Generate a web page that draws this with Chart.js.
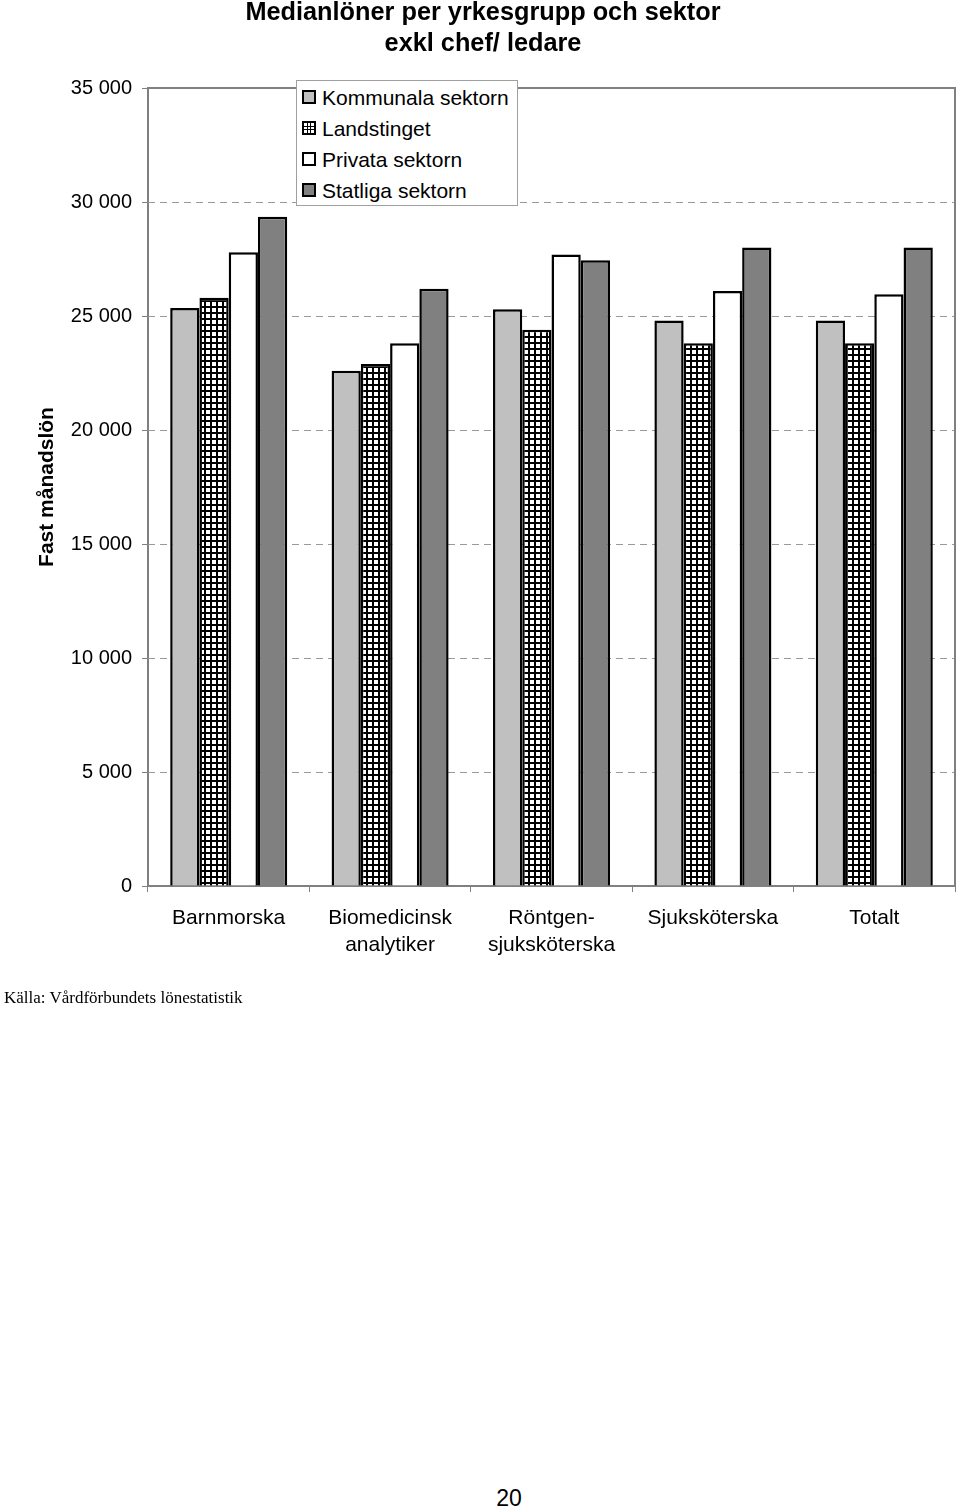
<!DOCTYPE html>
<html><head><meta charset="utf-8">
<script src="https://cdn.jsdelivr.net/npm/chart.js@4.4.1/dist/chart.umd.min.js"></script>
<style>
html,body{margin:0;padding:0;background:#fff;width:960px;height:1511px;overflow:hidden;position:relative;font-family:"Liberation Sans",Arial,sans-serif;}
#c{position:absolute;left:0;top:0;}
#title{position:absolute;left:0;width:966px;top:-4px;text-align:center;font-weight:bold;font-size:25.3px;line-height:31px;color:#000;}
#legend{position:absolute;left:296px;top:80px;width:220px;height:124px;border:1px solid #a0a0a0;background:#fff;z-index:2;}
.item{position:absolute;left:5px;height:31px;font-size:21px;line-height:31px;color:#000;white-space:nowrap;}
.sw{position:absolute;left:0;top:8px;width:10px;height:10px;border:2px solid #000;}
.item span.t{position:absolute;left:20px;top:0;}
#src{position:absolute;left:4px;top:988px;font-family:"Liberation Serif","Times New Roman",serif;font-size:17px;color:#000;white-space:nowrap;}
#page{position:absolute;left:0;width:1018px;text-align:center;top:1485px;font-size:23px;color:#000;}
</style></head>
<body>
<canvas id="c" width="960" height="1000"></canvas>
<div id="title">Medianlöner per yrkesgrupp och sektor<br>exkl chef/ ledare</div>
<div id="legend"></div>
<div id="src">Källa: Vårdförbundets lönestatistik</div>
<div id="page">20</div>
<script>
const categories = [["Barnmorska"], ["Biomedicinsk","analytiker"], ["Röntgen-","sjuksköterska"], ["Sjuksköterska"], ["Totalt"]];
const seriesNames = ["Kommunala sektorn", "Landstinget", "Privata sektorn", "Statliga sektorn"];
const kommunala = [25350, 22600, 25300, 24800, 24800];
const landstinget = [25800, 22900, 24400, 23800, 23800];
const privata = [27800, 23800, 27700, 26100, 25950];
const statliga = [29350, 26200, 27450, 28000, 28000];
const yTicks = [0, 5000, 10000, 15000, 20000, 25000, 30000, 35000];
const yTitle = "Fast månadslön";

function makeGrid(){
  const p = document.createElement('canvas'); p.width = 6; p.height = 6;
  const g = p.getContext('2d');
  g.fillStyle = '#fff'; g.fillRect(0,0,6,6);
  g.fillStyle = '#000'; g.fillRect(0,0,6,2); g.fillRect(0,0,2,6);
  return document.getElementById('c').getContext('2d').createPattern(p,'repeat');
}
const gridPattern = makeGrid();
const fills = ['#c0c0c0', gridPattern, '#ffffff', '#808080'];
const swatchCss = [
  'background:#c0c0c0;',
  'background:#fff;background-image:linear-gradient(90deg,transparent 3px,#000 3px,#000 4px,transparent 4px,transparent 6px,#000 6px,#000 7px,transparent 7px),linear-gradient(180deg,transparent 3px,#000 3px,#000 4px,transparent 4px,transparent 6px,#000 6px,#000 7px,transparent 7px);',
  'background:#fff;',
  'background:#808080;'
];
const lg = document.getElementById('legend');
seriesNames.forEach((n,i)=>{
  const d = document.createElement('div'); d.className='item';
  d.style.top = (0.5 + i*31.3) + 'px';
  d.innerHTML = '<div class="sw" style="'+swatchCss[i]+'"></div><span class="t">'+n+'</span>';
  lg.appendChild(d);
});

const values = [kommunala, landstinget, privata, statliga];
const fmt = v => String(v).replace(/\B(?=(\d{3})+(?!\d))/g, ' ');

const framePlugin = {
  id:'frame',
  beforeDatasetsDraw(chart){
    const {ctx, chartArea:a, scales:{y}} = chart;
    ctx.save();
    ctx.strokeStyle = '#9a9a9a'; ctx.lineWidth = 1; ctx.setLineDash([7,5]);
    yTicks.forEach(v=>{
      if (v===0 || v===35000) return;
      const py = Math.round(y.getPixelForValue(v)) + 0.5;
      ctx.beginPath(); ctx.moveTo(a.left, py); ctx.lineTo(a.right, py); ctx.stroke();
    });
    ctx.restore();
  },
  afterDatasetsDraw(chart){
    const {ctx, chartArea:a} = chart;
    ctx.save();
    ctx.strokeStyle = '#808080'; ctx.lineWidth = 2;
    ctx.beginPath(); ctx.moveTo(a.left, a.top); ctx.lineTo(a.right, a.top); ctx.lineTo(a.right, a.bottom); ctx.stroke();
    ctx.restore();
  }
};

new Chart(document.getElementById('c'), {
  type:'bar',
  data:{
    labels: categories,
    datasets: seriesNames.map((n,i)=>({
      label:n, data:values[i], backgroundColor:fills[i], borderColor:'#000', borderWidth:2.5,
      barPercentage:1, categoryPercentage:0.725
    }))
  },
  options:{
    responsive:false, devicePixelRatio:1, animation:false,
    layout:{padding:{top:88,right:5,left:0,bottom:0}},
    plugins:{legend:{display:false}, tooltip:{enabled:false}, title:{display:false}},
    scales:{
      x:{
        afterFit(s){ s.height = 114; },
        grid:{offset:true, drawOnChartArea:false, drawTicks:true, tickLength:6, color:'#808080', tickColor:'#808080', lineWidth:1},
        border:{display:true, color:'#808080', width:2},
        ticks:{color:'#000', padding:13, maxRotation:0, autoSkip:false, font:{family:'"Liberation Sans", Arial, sans-serif', size:21, lineHeight:1.28}}
      },
      y:{
        min:0, max:35000,
        afterFit(s){ s.width = 148; },
        afterBuildTicks(s){ s.ticks = yTicks.map(v=>({value:v})); },
        grid:{drawOnChartArea:false, drawTicks:true, tickLength:6, color:'#808080', tickColor:'#808080', lineWidth:1},
        border:{display:true, color:'#808080', width:2},
        ticks:{color:'#000', padding:10, callback:v=>fmt(v), font:{family:'"Liberation Sans", Arial, sans-serif', size:20}},
        title:{display:true, text:yTitle, color:'#000', padding:{top:35,bottom:0}, font:{family:'"Liberation Sans", Arial, sans-serif', size:21, weight:'bold'}}
      }
    }
  },
  plugins:[framePlugin]
});
</script>
</body></html>
